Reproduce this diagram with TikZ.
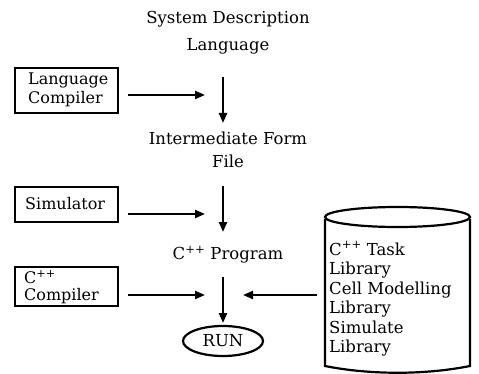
\documentclass[tikz,border=0pt]{standalone}
\usepackage{fontspec}
\setmainfont{DejaVu Serif}
\usetikzlibrary{arrows.meta,shapes.geometric}
\tikzset{
  lbl/.style={font=\fontsize{16.5}{18}\selectfont, inner sep=0pt},
  boxtxt/.style={font=\fontsize{16}{22}\selectfont, align=left, anchor=west, inner sep=0pt},
  frame/.style={draw, line width=2.2pt},
  arr/.style={line width=2.2pt, -{Triangle[length=10pt,width=8pt]}}
}
\begin{document}
\begin{tikzpicture}[x=1pt,y=-1pt]
\useasboundingbox (0,0) rectangle (479,374);
% titles
\node[lbl] (sdl1) at (228,19) {System Description};
\node[lbl] (sdl2) at (228,46) {Language};
\node[lbl] (if1) at (228,138) {Intermediate Form};
\node[lbl] (if2) at (228,161) {File};
\node[lbl] (cpp) at (228,255) {C\textsuperscript{++} Program};
% left boxes
\draw[frame] (15,68) rectangle (118,113);
\node[boxtxt] (lc) at (28,90) {Language\\[-3pt]Compiler};
\draw[frame] (15,187) rectangle (118,222);
\node[boxtxt] (sim) at (25,204) {Simulator};
\draw[frame] (15,267) rectangle (118,306);
\node[boxtxt] (cc) at (24,287) {C\textsuperscript{++}\\[-5pt]Compiler};
% horizontal arrows
\coordinate (h1s) at (128,95); \coordinate (h1e) at (205,95);
\coordinate (h2s) at (128,214); \coordinate (h2e) at (205,214);
\coordinate (h3s) at (128,295); \coordinate (h3e) at (205,295);
\coordinate (h4s) at (317,295); \coordinate (h4e) at (243,295);
\draw[arr] (h1s) -- (h1e);
\draw[arr] (h2s) -- (h2e);
\draw[arr] (h3s) -- (h3e);
\draw[arr] (h4s) -- (h4e);
% vertical arrows
\coordinate (v1s) at (223,77); \coordinate (v1e) at (223,123);
\coordinate (v2s) at (223,186); \coordinate (v2e) at (223,232);
\coordinate (v3s) at (223,277); \coordinate (v3e) at (223,323);
\draw[arr] (v1s) -- (v1e);
\draw[arr] (v2s) -- (v2e);
\draw[arr] (v3s) -- (v3e);
% RUN
\node[lbl, draw, line width=2.2pt, ellipse, minimum width=80pt, minimum height=30pt] (run) at (223,341) {RUN};
% cylinder
\draw[line width=2.2pt] (325,219) -- (325,366) .. controls (370,375) and (425,375) .. (470,366) -- (470,219);
\draw[line width=2.2pt] (397.5,217) ellipse [x radius=72.5, y radius=10];
\node[boxtxt, font=\fontsize{16.5}{19.5}\selectfont] (lib) at (329,299) {C\textsuperscript{++} Task\\Library\\Cell Modelling\\Library\\Simulate\\Library};
\end{tikzpicture}
\end{document}
